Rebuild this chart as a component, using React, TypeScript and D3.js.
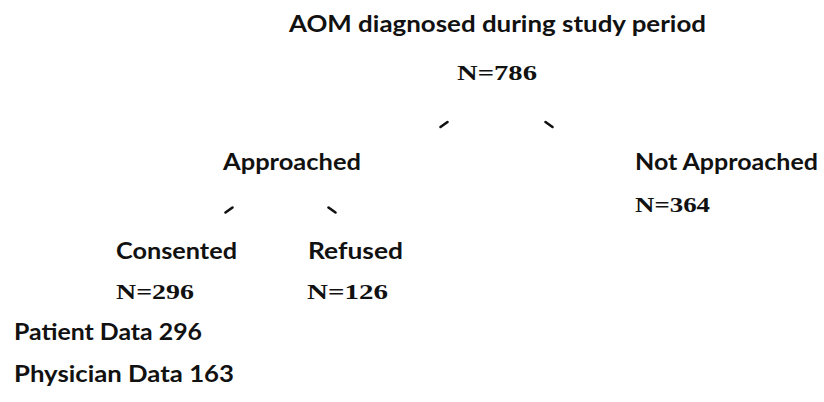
import React from "react";
import * as d3 from "d3";

// ---- data ----
const titleLines = ["AOM diagnosed during study period", "N=786"];
const level1Labels = ["Approached", "Not Approached"];
const level1Counts = ["", "N=364"];
const level2Labels = ["Consented", "Refused"];
const level2Counts = ["N=296", "N=126"];
const dataLines = ["Patient Data 296", "Physician Data 163"];

// ---- layout ----
const W = 824;
const H = 402;
// baselines per row
const rowY = [32, 80, 125, 170, 212, 259, 299, 340, 382];
const y = (r: number) => rowY[r];

const sansFont = "Lato, 'Open Sans', sans-serif";
const serifFont = "'Liberation Serif', 'DejaVu Serif', serif";

type T = { text: string; x0: number; x1: number; row: number; serif?: boolean };

const texts: T[] = [
  { text: titleLines[0], x0: 289, x1: 706, row: 0 },
  { text: titleLines[1], x0: 457, x1: 537, row: 1, serif: true },
  { text: level1Labels[0], x0: 223, x1: 361, row: 3 },
  { text: level1Labels[1], x0: 635, x1: 818, row: 3 },
  { text: level1Counts[1], x0: 635, x1: 710, row: 4, serif: true },
  { text: level2Labels[0], x0: 116, x1: 237, row: 5 },
  { text: level2Labels[1], x0: 308, x1: 403, row: 5 },
  { text: level2Counts[0], x0: 116, x1: 194, row: 6, serif: true },
  { text: level2Counts[1], x0: 307, x1: 388, row: 6, serif: true },
  { text: dataLines[0], x0: 14, x1: 202, row: 7 },
  { text: dataLines[1], x0: 14, x1: 234, row: 8 },
];

// small slanted connector ticks: center, direction (-1 = "/", 1 = "\")
const ticks = [
  { cx: 444, cy: 124.5, dir: -1 },
  { cx: 549, cy: 124.5, dir: 1 },
  { cx: 229, cy: 210, dir: -1 },
  { cx: 332, cy: 210, dir: 1 },
];

export default function App() {
  const line = d3.line<[number, number]>();
  return (
    <svg
      width={W}
      height={H}
      viewBox={`0 0 ${W} ${H}`}
      style={{ position: "absolute", left: 0, top: 0, background: "#fff" }}
    >
      <rect width={W} height={H} fill="#fff" />
      {texts.map((t, i) => (
        <text
          key={i}
          x={t.x0}
          y={y(t.row)}
          fontFamily={t.serif ? serifFont : sansFont}
          fontWeight={700}
          fontSize={22}
          fill="#111"
          textLength={t.x1 - t.x0}
          lengthAdjust="spacingAndGlyphs"
        >
          {t.text}
        </text>
      ))}
      {ticks.map((k, i) => (
        <path
          key={i}
          d={
            line([
              [k.cx - 3.5, k.cy - 2.5 * k.dir],
              [k.cx + 3.5, k.cy + 2.5 * k.dir],
            ]) || ""
          }
          stroke="#111"
          strokeWidth={2.6}
          strokeLinecap="round"
          fill="none"
        />
      ))}
    </svg>
  );
}
